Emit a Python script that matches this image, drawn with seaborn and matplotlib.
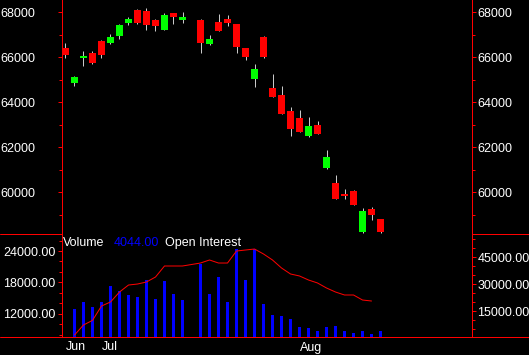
import numpy as np
import pandas as pd
import matplotlib
matplotlib.use("Agg")
import matplotlib.pyplot as plt
import seaborn as sns
from matplotlib.lines import Line2D
from matplotlib.ticker import FixedLocator, FixedFormatter, NullFormatter

# ---------------- data ----------------
session = [0, 1, 2, 3, 4, 5, 6, 7, 8, 9, 10, 11, 12, 13,
           15, 16, 17, 18, 19, 20, 21, 22, 23, 24, 25, 26, 27, 28, 29, 30, 31, 32, 33, 34, 35]
open_ = [66400, 64858, 65969, 66191, 66725, 66636, 66947, 67524, 68102, 68058, 67658, 67213, 67969, 67658,
         67658, 66591, 67569, 67702, 67480, 66414, 65036, 66902, 64636, 64325, 63614, 63303, 62503, 62991,
         61081, 60414, 59925, 60058, 58236, 59259, 58814]
high = [66636, 65169, 66280, 66280, 66769, 67036, 67470, 67791, 68147, 68191, 67702, 67969, 67990, 68013,
        67680, 66991, 67924, 67880, 67500, 66430, 65702, 66947, 65258, 64725, 63791, 63658, 63347, 63169,
        61880, 60770, 60147, 60103, 59303, 59347, 58830]
low = [65982, 64725, 65614, 65702, 65969, 66591, 66813, 67436, 67480, 67213, 67169, 67200, 67480, 67524,
       66191, 66547, 67150, 67391, 66191, 65880, 64680, 65990, 64220, 63460, 62503, 62660, 62480, 62570,
       61036, 59690, 59703, 59420, 58192, 58770, 58192]
close = [66102, 65125, 66058, 65747, 66102, 66902, 67436, 67702, 67524, 67436, 67391, 67880, 67791, 67791,
         66636, 66813, 67169, 67524, 66458, 66014, 65480, 66014, 64236, 63480, 62814, 62680, 62947, 62592,
         61569, 59703, 59836, 59436, 59170, 58992, 58236]
volume = [0, 16300, 20200, 17400, 20200, 29100, 26300, 24100, 23000, 32400, 21800, 31800, 24600, 21300,
          41300, 24600, 34100, 20200, 49600, 32400, 49600, 19100, 13000, 12400, 10700, 6300, 5700, 4100,
          6300, 6800, 4100, 2900, 4100, 2400, 4044]
open_interest = [np.nan, 7920, 9840, 10720, 13470, 14240, 16150, 17490, 17680, 18070, 19020, 21130, 21130, 21130,
                 21700, 22280, 21700, 21700, 24000, 24190, 24380, 23430, 22280, 20750, 19600, 19220, 18450, 17880,
                 16920, 16150, 15580, 15580, 14620, 14430, np.nan]

month_labels = ["Jun", "Jul", "Aug"]
month_sessions = [0, 4, 26]
week_sessions = [9, 14, 19, 24, 29, 34]
price_ticks = [60000, 62000, 64000, 66000, 68000]
price_minor = [59000, 61000, 63000, 65000, 67000]
price_labels = ["60000", "62000", "64000", "66000", "68000"]
oi_ticks = [12000, 18000, 24000]
oi_minor = [8000, 10000, 14000, 16000, 20000, 22000, 26000]
oi_labels = ["12000.00", "18000.00", "24000.00"]
vol_ticks = [15000, 30000, 45000]
vol_minor = [5000, 10000, 20000, 25000, 35000, 40000, 50000, 55000]
vol_labels = ["15000.00", "30000.00", "45000.00"]
legend_parts = ["Volume", "4044.00", "Open Interest"]

# ---------------- style ----------------
sns.set_theme(style="dark")
plt.rcParams["font.family"] = ["Liberation Sans", "DejaVu Sans"]
plt.rcParams["font.size"] = 9

W, H = 529, 355
RED = "#ff0000"
GREEN = "#00ff00"
BLUE = "#0000ff"
WICK = "#c8c8c8"
PX = 72 / 100.0  # points per pixel

fig = plt.figure(figsize=(W / 100, H / 100), dpi=100, facecolor="black")

left = 61.5 / W
width = 410 / W
y_sep = 233.5
y_bot = 336.5
ax_p = fig.add_axes([left, 1 - y_sep / H, width, y_sep / H])
ax_v = fig.add_axes([left, 1 - y_bot / H, width, (y_bot - y_sep) / H], sharex=ax_p)
ax_oi = ax_v.twinx()
ax_pr = ax_p.twinx()

for a in (ax_p, ax_v):
    a.set_facecolor("black")
    a.grid(False)
for a in (ax_oi, ax_pr):
    a.grid(False)

# ---------------- candles ----------------
df = pd.DataFrame({"session": session, "open": open_, "high": high, "low": low,
                   "close": close, "volume": volume, "oi": open_interest})
df["up"] = df["close"] >= df["open"]
body_bottom = df[["open", "close"]].min(axis=1)
body_h = (df["close"] - df["open"]).abs().clip(lower=40)
ax_p.vlines(df["session"], df["low"], df["high"], color=WICK, linewidth=1 * PX, zorder=2)
ax_p.bar(df["session"], body_h, bottom=body_bottom, width=0.78,
         color=[GREEN if u else RED for u in df["up"]], linewidth=0, zorder=3)

xlim = (-0.444, 45.11)
ax_p.set_xlim(*xlim)
ylim_p = (58170, 68546)
ax_p.set_ylim(*ylim_p)
ax_pr.set_ylim(*ylim_p)

# ---------------- volume & OI ----------------
sns.barplot(data=df, x="session", y="volume", native_scale=True, width=0.44, color=BLUE,
            saturation=1, errorbar=None, linewidth=0, ax=ax_v)
sns.lineplot(data=df.dropna(subset=["oi"]), x="session", y="oi", color=RED,
             linewidth=1 * PX, errorbar=None, ax=ax_oi)
ax_v.set_xlim(*xlim)
ax_v.set_ylim(1000, 58226)
ax_oi.set_ylim(7636, 27350)
for a in (ax_p, ax_v, ax_oi, ax_pr):
    a.set_xlabel("")
    a.set_ylabel("")

# ---------------- spines ----------------
for a in (ax_p, ax_v, ax_oi, ax_pr):
    for s in a.spines.values():
        s.set_visible(False)
for a, sides in ((ax_p, ["left", "right"]), (ax_v, ["left", "right", "bottom"])):
    for sname in sides:
        a.spines[sname].set_visible(True)
        a.spines[sname].set_color(RED)
        a.spines[sname].set_linewidth(1 * PX)

# ---------------- y ticks ----------------
def setup_y(ax, ticks, minor, labels, side, pad):
    ax.yaxis.set_major_locator(FixedLocator(ticks))
    ax.yaxis.set_major_formatter(FixedFormatter(labels))
    ax.yaxis.set_minor_locator(FixedLocator(minor))
    ax.yaxis.set_minor_formatter(NullFormatter())
    if side == "left":
        ax.yaxis.tick_left()
    else:
        ax.yaxis.tick_right()
    ax.tick_params(axis="y", which="major", direction="out", length=4 * PX, width=1 * PX,
                   color=RED, labelcolor="white", labelsize=9, pad=pad * PX)
    ax.tick_params(axis="y", which="minor", direction="out", length=3 * PX, width=1 * PX, color=RED)

setup_y(ax_p, price_ticks, price_minor, price_labels, "left", 22)
setup_y(ax_pr, price_ticks, price_minor, price_labels, "right", 2)
setup_y(ax_oi, oi_ticks, oi_minor, oi_labels, "left", 2)
setup_y(ax_v, vol_ticks, vol_minor, vol_labels, "right", 2)
ax_oi.yaxis.set_ticks_position("left")
ax_v.yaxis.set_ticks_position("right")

# ---------------- x ticks ----------------
ax_p.tick_params(axis="x", which="both", bottom=False, labelbottom=False)
ax_v.xaxis.set_major_locator(FixedLocator(month_sessions))
ax_v.xaxis.set_major_formatter(FixedFormatter(month_labels))
ax_v.xaxis.set_minor_locator(FixedLocator(week_sessions))
ax_v.xaxis.set_minor_formatter(NullFormatter())
ax_v.tick_params(axis="x", which="major", direction="out", length=7 * PX, width=1 * PX,
                 color=RED, labelcolor="white", labelsize=9, pad=-2 * PX)
ax_v.tick_params(axis="x", which="minor", direction="out", length=3 * PX, width=1 * PX, color=RED)
for lab in ax_v.get_xticklabels():
    lab.set_horizontalalignment("left")

# ---------------- separators in margins ----------------
def hline(y, x0, x1):
    fig.add_artist(Line2D([x0 / W, x1 / W], [1 - y / H, 1 - y / H], color=RED,
                          linewidth=1 * PX, transform=fig.transFigure))

hline(y_sep, 0, 61.5)
hline(y_sep, 471.5, W)
hline(y_bot, 0, 61.5)
hline(y_bot, 471.5, W)

# ---------------- legend text ----------------
base = 1 - 246 / H
fig.text(63 / W, base, legend_parts[0], color="white", fontsize=9, va="baseline", ha="left")
fig.text(114 / W, base, legend_parts[1], color=BLUE, fontsize=9, va="baseline", ha="left")
fig.text(165 / W, base, legend_parts[2], color="white", fontsize=9, va="baseline", ha="left")

fig.savefig("out.png", dpi=100, facecolor="black")
